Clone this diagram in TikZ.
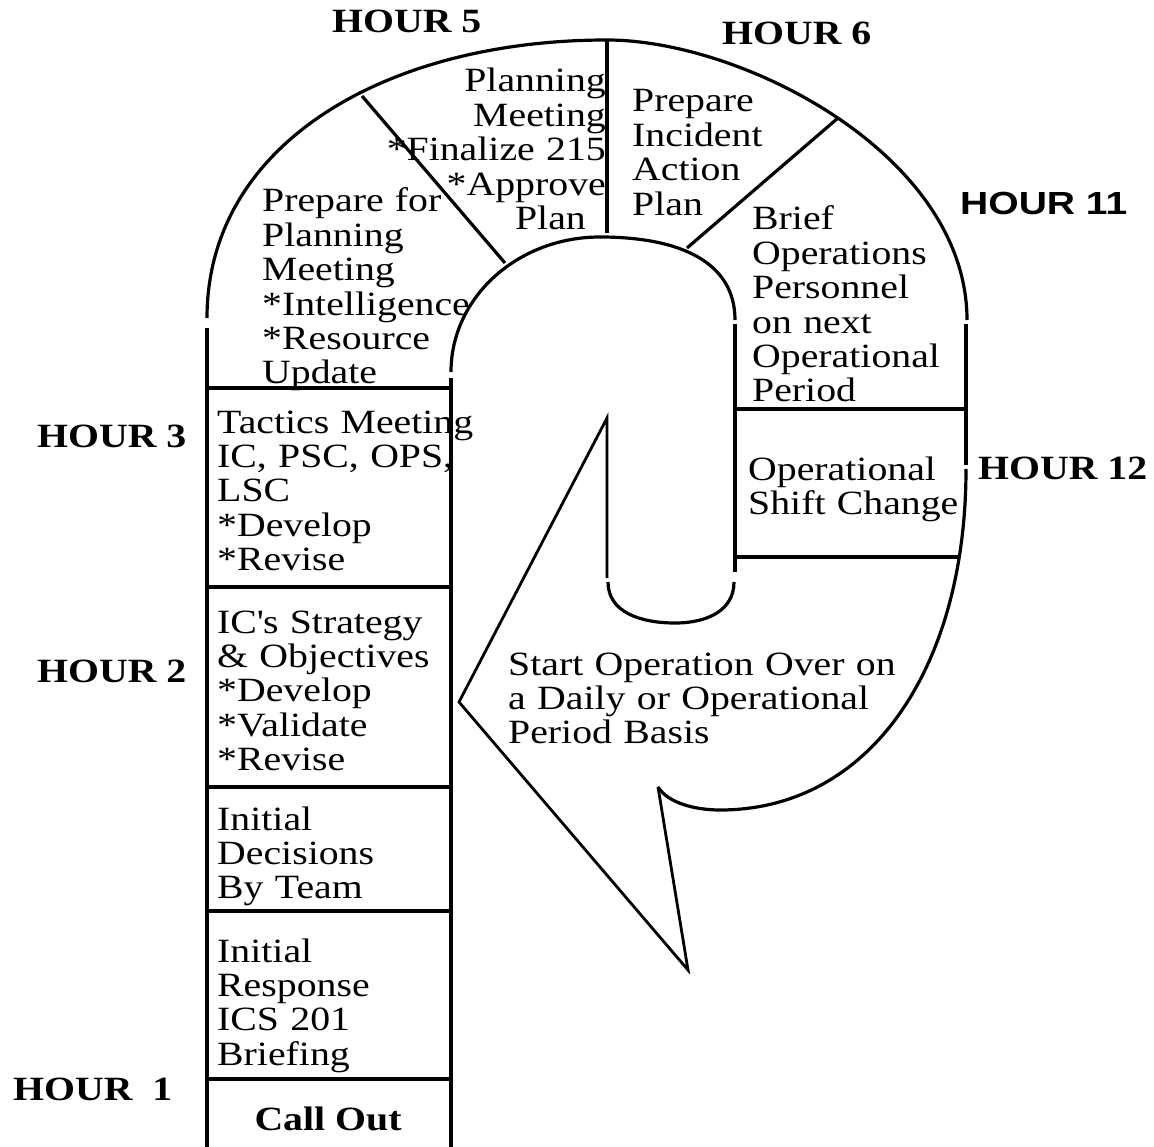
\documentclass[tikz,border=0pt]{standalone}
\usepackage{fontspec}
\setmainfont{Liberation Serif}[FakeStretch=1.17]
\newfontfamily\hoursans{Liberation Sans}[FakeStretch=1.22]

\begin{document}
\begin{tikzpicture}
    [x=1pt, y=-1pt,
    inner sep=0pt,
    board/.style={draw, line width=3.2pt},
    tail/.style={draw, line width=2.8pt, line join=miter},
    cell/.style={
        anchor=base west,
        text width=460pt,
        align=left,
        font=\fontsize{34}{34.4}\selectfont
    },
    cellright/.style={cell, anchor=base east, text width=250pt, align=right},
    hour/.style={anchor=base west, font=\fontsize{34}{34.4}\selectfont\bfseries}
    ]
    \useasboundingbox (0,0) rectangle (1154,1147);

    % Outer and inner rim of the track
    \coordinate (outerL) at (207,318);
    \coordinate (outerT) at (607,40);
    \coordinate (outerR) at (967,320);
    \coordinate (innerL) at (451,372);
    \coordinate (innerT) at (600,237);
    \coordinate (innerR) at (735,320);
    \path[board] (outerL) .. controls (207,143) and (387,40) .. (outerT)
        .. controls (743,40) and (967,155) .. (outerR);
    \path[board] (innerL) .. controls (451,297) and (518,237) .. (innerT)
        .. controls (680,237) and (735,262) .. (innerR);
    \path[board] (207,328) -- (207,1147);
    \path[board] (451,378) -- (451,1147);
    \path[board] (735,324) -- (735,572);
    \path[board] (966,324) -- (966,465);

    % Start-over balloon
    \path[board] (966,469) .. controls (966,668) and (870,810) .. (720,810)
        .. controls (695,810) and (668,803) .. (658,787);
    \path[tail] (658,787) -- (688,970) -- (459,702) -- (607,418) -- (607,578);
    \path[board] (608,582) .. controls (608,612) and (640,623) .. (675,623)
        .. controls (708,623) and (734,610) .. (734,582);

    % Dividers
    \path[board] (outerT) -- (607,233);
    \path[board] (362,96) -- (505,263);
    \path[board] (838,118) -- (687,248);
    \foreach \y in {388,587,787,911,1079}
        \path[board] (207,\y) -- (451,\y);
    \path[board] (735,409) -- (966,409);
    \path[board] (735,557) -- (959,557);

    % Stations
    \node[cell] (prepplan) at (262,212) {Prepare for\\Planning\\Meeting\\{*}Intelligence\\{*}Resource\\Update};
    \node[cellright] (planmeet) at (606,92) {Planning\\Meeting\\{*}Finalize 215\\{*}Approve\\Plan\kern20pt};
    \node[cell] (prepiap) at (632,112) {Prepare\\Incident\\Action\\Plan};
    \node[cell] (briefops) at (752,230) {Brief\\Operations\\Personnel\\on next\\Operational\\Period};
    \node[cell] (shift) at (748,480) {Operational\\Shift Change};
    \node[cell] (tactics) at (217,433) {Tactics Meeting\\IC, PSC, OPS,\\LSC\\{*}Develop\\{*}Revise};
    \node[cell] (strategy) at (217,633) {IC\textquotesingle s Strategy\\\& Objectives\\{*}Develop\\{*}Validate\\{*}Revise};
    \node[cell] (decisions) at (217,830) {Initial\\Decisions\\By Team};
    \node[cell] (response) at (217,962) {Initial\\Response\\ICS 201\\Briefing};
    \node[hour, anchor=base] (callout) at (328,1130) {Call Out};
    \node[cell] (startover) at (508,675) {Start Operation Over on\\a Daily or Operational\\Period Basis};

    % Hours
    \foreach \hr/\x/\y/\name in {HOUR 5/332/33/five, HOUR 6/722/45/six, HOUR 12/978/479/twelve,
        HOUR 3/37/447/three, HOUR 2/37/682/two, HOUR~~1/13/1100/one}
        \node[hour] (hour\name) at (\x,\y) {\hr};
    \node[hour, font=\hoursans\bfseries\fontsize{32}{32}\selectfont] (houreleven) at (960,215) {HOUR 11};
\end{tikzpicture}
\end{document}
